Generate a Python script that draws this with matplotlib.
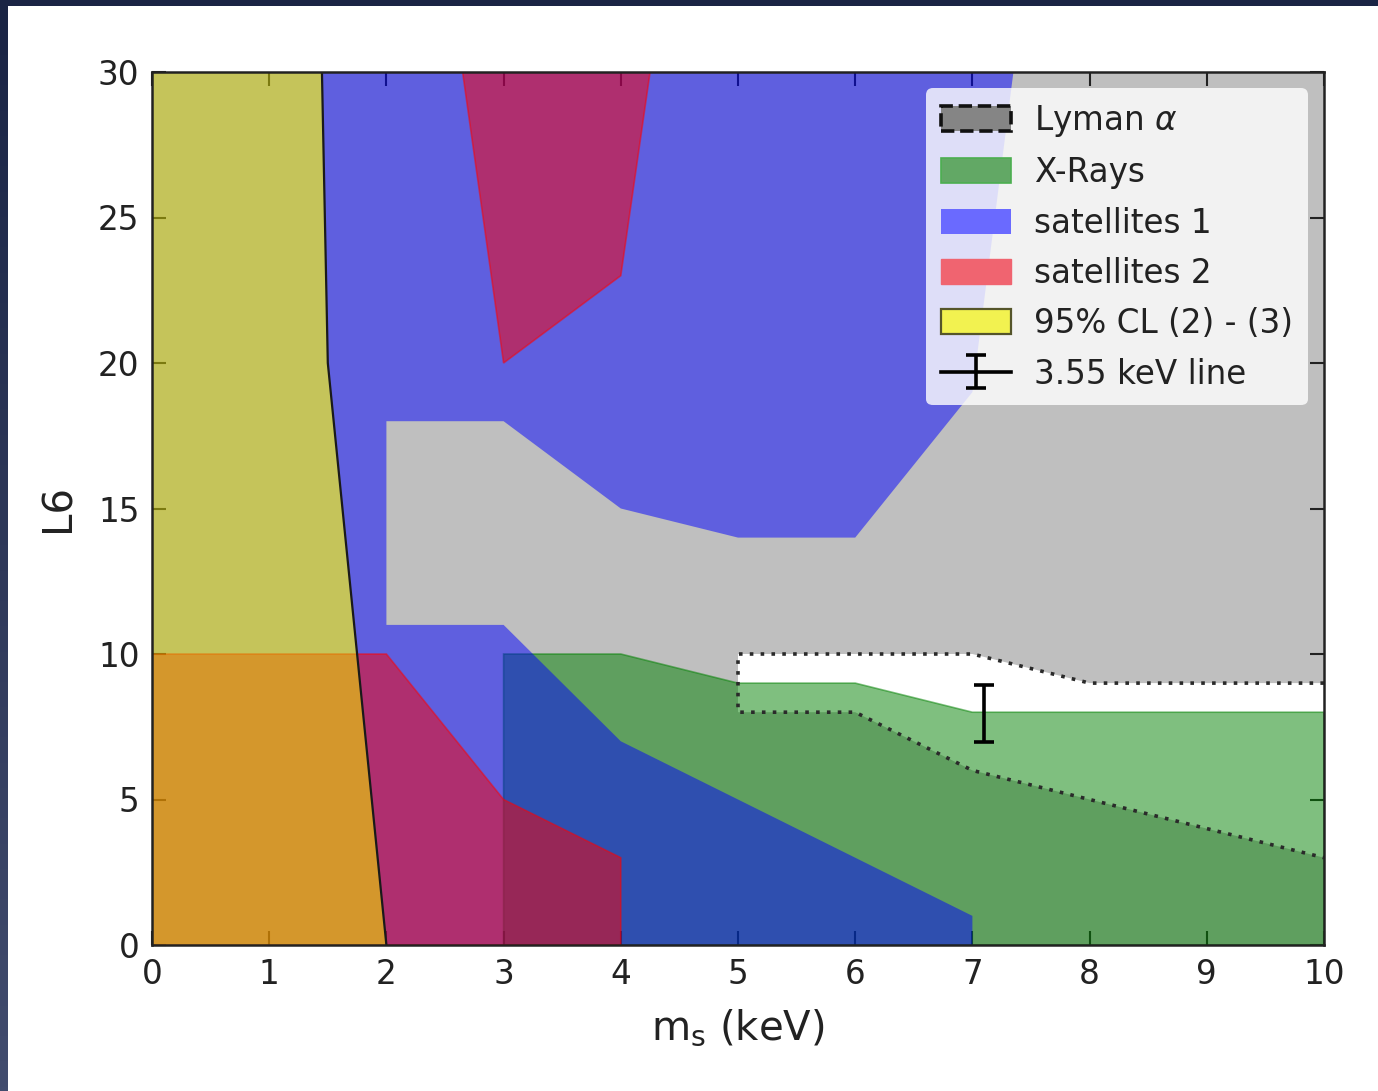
import numpy as np
import matplotlib
matplotlib.use("Agg")
import matplotlib.pyplot as plt
from matplotlib.patches import Patch, Rectangle

# Region outlines in the (m_s, L6) plane
lyman_allowed_x = [10, 8, 7, 5, 5, 6, 7, 10]
lyman_allowed_y = [9, 9, 10, 10, 8, 8, 6, 3]

xray_x = [3, 3, 4, 5, 6, 7, 10, 10]
xray_y = [0, 10, 10, 9, 9, 8, 8, 0]

sat1_x = [1.45, 7.35, 7.0, 6.0, 5.0, 4.0, 3.0, 2.0, 2.0, 3.0, 4.0, 7.0, 7.0, 2.0, 1.5]
sat1_y = [30, 30, 19, 14, 14, 15, 18, 18, 11, 11, 7, 1, 0, 0, 20]

sat2_upper_x = [2.65, 4.25, 4.0, 3.0]
sat2_upper_y = [30, 30, 23, 20]
sat2_lower_x = [0, 0, 2, 3, 4, 4]
sat2_lower_y = [0, 10, 10, 5, 3, 0]

cl95_x = [0, 0, 1.45, 1.5, 2.0]
cl95_y = [0, 30, 30, 20, 0]

line_355_m = [7.1]
line_355_L6 = [7.95]
line_355_err = [0.97]

x_ticks = [0, 1, 2, 3, 4, 5, 6, 7, 8, 9, 10]
y_ticks = [0, 5, 10, 15, 20, 25, 30]

W, H = 1378, 1091
fig = plt.figure(figsize=(W / 100, H / 100), dpi=100)

# dark slide frame with a soft vertical gradient, white page on top
bg = fig.add_axes([0, 0, 1, 1], zorder=-10)
top_c = np.array([26, 36, 68]) / 255
bot_c = np.array([66, 76, 110]) / 255
t = np.linspace(0, 1, 256)[:, None]
grad = (top_c * (1 - t) + bot_c * t)[:, None, :]
bg.imshow(grad, extent=[0, 1, 0, 1], aspect="auto")
bg.set_axis_off()
bg.add_patch(Rectangle((8 / W, 0), 1, 1 - 6 / H, transform=bg.transAxes,
                       facecolor="white", edgecolor="none", zorder=5))

ax = fig.add_axes([152 / W, 1 - 945 / H, (1324 - 152) / W, (945 - 72) / H])
ax.set_facecolor("#bfbfbf")

# Lyman-alpha allowed window
ax.fill(lyman_allowed_x, lyman_allowed_y, facecolor="white", edgecolor="none", zorder=1)

# X-ray bound
ax.fill(xray_x, xray_y, facecolor="green", alpha=0.5, edgecolor="green",
        linewidth=1.2, zorder=2)

# window outline, dotted (the x = 10 side lies on the frame)
ax.plot(lyman_allowed_x, lyman_allowed_y,
        color="#2a2a2a", linestyle=(0, (1, 2)), linewidth=2.6, zorder=3)

# satellite counts
ax.fill(sat1_x, sat1_y, facecolor="blue", alpha=0.5, edgecolor="none", zorder=4)
ax.fill(sat2_upper_x, sat2_upper_y, facecolor="red", alpha=0.5, edgecolor="red",
        linewidth=1.2, zorder=5)
ax.fill(sat2_lower_x, sat2_lower_y, facecolor="red", alpha=0.5, edgecolor="red",
        linewidth=1.2, zorder=5)

# 95% CL region
ax.fill(cl95_x, cl95_y, facecolor=(0.8, 0.79, 0.0), alpha=0.53, edgecolor="none", zorder=6)
ax.plot(cl95_x[2:], cl95_y[2:], color="#1a1a1a", linewidth=1.6, zorder=6.5)

# 3.55 keV line
eb = ax.errorbar(line_355_m, line_355_L6, yerr=line_355_err, color="black",
                 capsize=7, elinewidth=2.6, capthick=2.6, linewidth=2.6, zorder=7)

ax.set_xlim(0, 10)
ax.set_ylim(0, 30)
ax.set_xticks(x_ticks)
ax.set_yticks(y_ticks)
ax.tick_params(direction="in", top=True, right=True, length=10, width=1.5,
               labelsize=23.5, pad=9, colors="#222222")
for s in ax.spines.values():
    s.set_linewidth(1.8)
    s.set_color("#222222")
    s.set_zorder(10)

ax.set_xlabel(r"m$_{\rm s}$ (keV)", fontsize=29, color="#222222", labelpad=12)
ax.set_ylabel("L6", fontsize=29, color="#222222", labelpad=14)

handles = [
    Patch(facecolor="#858585", edgecolor="#111111", linestyle="--", linewidth=2.6),
    Patch(facecolor="#62a865", edgecolor="#4caf50", linewidth=1.2),
    Patch(facecolor="#6a6aff", edgecolor="none"),
    Patch(facecolor="#f06470", edgecolor="#f06470"),
    Patch(facecolor="#f2f250", edgecolor="#55552a", linewidth=1.6),
    eb,
]
labels = [r"Lyman $\alpha$", "X-Rays", "satellites 1", "satellites 2",
          "95% CL (2) - (3)", "3.55 keV line"]
leg = ax.legend(handles, labels, loc="upper right", fontsize=23.5, framealpha=0.8,
                edgecolor="none", handlelength=2.15, handleheight=0.8,
                labelspacing=0.53, borderaxespad=0.5, handletextpad=0.7,
                borderpad=0.45)
leg.set_zorder(20)
for txt in leg.get_texts():
    txt.set_color("#222222")

fig.savefig("out.png", dpi=100)
